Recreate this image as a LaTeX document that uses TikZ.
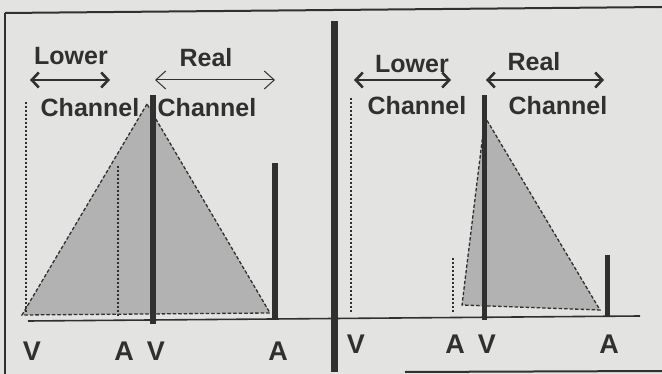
\documentclass[tikz,border=0pt]{standalone}
\usepackage{fontspec}
\setmainfont{Liberation Sans}
\usetikzlibrary{arrows.meta}
\definecolor{paper}{HTML}{E3E3E1}
\definecolor{ink}{HTML}{303030}
\definecolor{stipple}{HTML}{B2B2B2}
\begin{document}
\begin{tikzpicture}[x=1pt,y=-1pt,
  lab/.style={font=\bfseries\fontsize{25}{25}\selectfont, text=ink, anchor=base, inner sep=0pt},
  valab/.style={font=\bfseries\fontsize{27}{27}\selectfont, text=ink, anchor=base, inner sep=0pt},
  bar/.style={draw=ink, line width=6pt},
  frameline/.style={draw=ink, line width=2pt},
  tri/.style={draw=ink, line width=1.3pt, dash pattern=on 3.5pt off 2pt, fill=stipple},
  guide/.style={draw=ink, line width=1.3pt, dash pattern=on 2.5pt off 1.5pt},
  boldarrow/.style={draw=ink, line width=2.6pt, {Straight Barb[length=7pt,width=15pt]}-{Straight Barb[length=7pt,width=15pt]}},
  thinarrow/.style={draw=ink, line width=1pt, {Straight Barb[length=10pt,width=18pt]}-{Straight Barb[length=10pt,width=18pt]}}
  ]
\useasboundingbox (0,0) rectangle (662,374);
\fill[paper] (0,0) rectangle (662,374);

% frame
\coordinate (ftl) at (5,13);
\coordinate (ftr) at (662,7);
\coordinate (fbl) at (5,374);
\coordinate (bbl) at (405,372);
\coordinate (bbr) at (662,371);
\draw[frameline] (ftl) -- (ftr);
\draw[frameline] (ftl) -- (fbl);
\draw[frameline] (bbl) -- (bbr);

% baseline
\coordinate (bl0) at (28,321);
\coordinate (bl1) at (640,316);
\draw[draw=ink, line width=1.6pt] (bl0) -- (bl1);

% ---------- left panel ----------
\coordinate (lt1) at (147,104);
\coordinate (lt2) at (22,315);
\coordinate (lt3) at (270,313);
\draw[tri] (lt1) -- (lt2) -- (lt3) -- cycle;

\coordinate (lg1a) at (26,102);
\coordinate (lg1b) at (26,314);
\draw[guide] (lg1a) -- (lg1b);
\coordinate (lg2a) at (118,166);
\coordinate (lg2b) at (118,317);
\draw[guide] (lg2a) -- (lg2b);

\coordinate (lb1a) at (152.5,95);
\coordinate (lb1b) at (152.5,324);
\draw[bar] (lb1a) -- (lb1b);
\coordinate (lb2a) at (275,163);
\coordinate (lb2b) at (275,320);
\draw[bar] (lb2a) -- (lb2b);

\node[lab] (lLower) at (71,65) {Lower};
\node[lab] (lReal) at (206,67) {Real};
\node[lab] (lCh1) at (90,117) {Channel};
\node[lab] (lCh2) at (207,117) {Channel};
\coordinate (la1) at (30,80);
\coordinate (la2) at (110,80);
\draw[boldarrow] (la1) -- (la2);
\coordinate (la3) at (155,80);
\coordinate (la4) at (275,80);
\draw[thinarrow] (la3) -- (la4);

\node[valab] (lV1) at (32,360) {V};
\node[valab] (lA1) at (124,360) {A};
\node[valab] (lV2) at (156,360) {V};
\node[valab] (lA2) at (278,360) {A};

% ---------- centre divider ----------
\coordinate (cb1) at (334.5,21);
\coordinate (cb2) at (334.5,372);
\draw[draw=ink, line width=7pt] (cb1) -- (cb2);

% ---------- right panel ----------
\coordinate (rt1) at (485,117);
\coordinate (rt2) at (462,305);
\coordinate (rt3) at (600,310);
\draw[tri] (rt1) -- (rt2) -- (rt3) -- cycle;

\coordinate (rg1a) at (351,98);
\coordinate (rg1b) at (351,312);
\draw[guide] (rg1a) -- (rg1b);
\coordinate (rg2a) at (453,258);
\coordinate (rg2b) at (453,313);
\draw[guide] (rg2a) -- (rg2b);

\coordinate (rb1a) at (484.5,95);
\coordinate (rb1b) at (484.5,320);
\draw[draw=ink, line width=5pt] (rb1a) -- (rb1b);
\coordinate (rb2a) at (607.5,255);
\coordinate (rb2b) at (607.5,316);
\draw[draw=ink, line width=5pt] (rb2a) -- (rb2b);

\node[lab] (rLower) at (412,73) {Lower};
\node[lab] (rReal) at (534,71) {Real};
\node[lab] (rCh1) at (417,115) {Channel};
\node[lab] (rCh2) at (558,115) {Channel};
\coordinate (ra1) at (354,80);
\coordinate (ra2) at (451,80);
\draw[boldarrow] (ra1) -- (ra2);
\coordinate (ra3) at (486,80);
\coordinate (ra4) at (604,80);
\draw[boldarrow] (ra3) -- (ra4);

\node[valab] (rV1) at (356,354) {V};
\node[valab] (rA1) at (455,354) {A};
\node[valab] (rV2) at (487,354) {V};
\node[valab] (rA2) at (609,354) {A};
\end{tikzpicture}
\end{document}
